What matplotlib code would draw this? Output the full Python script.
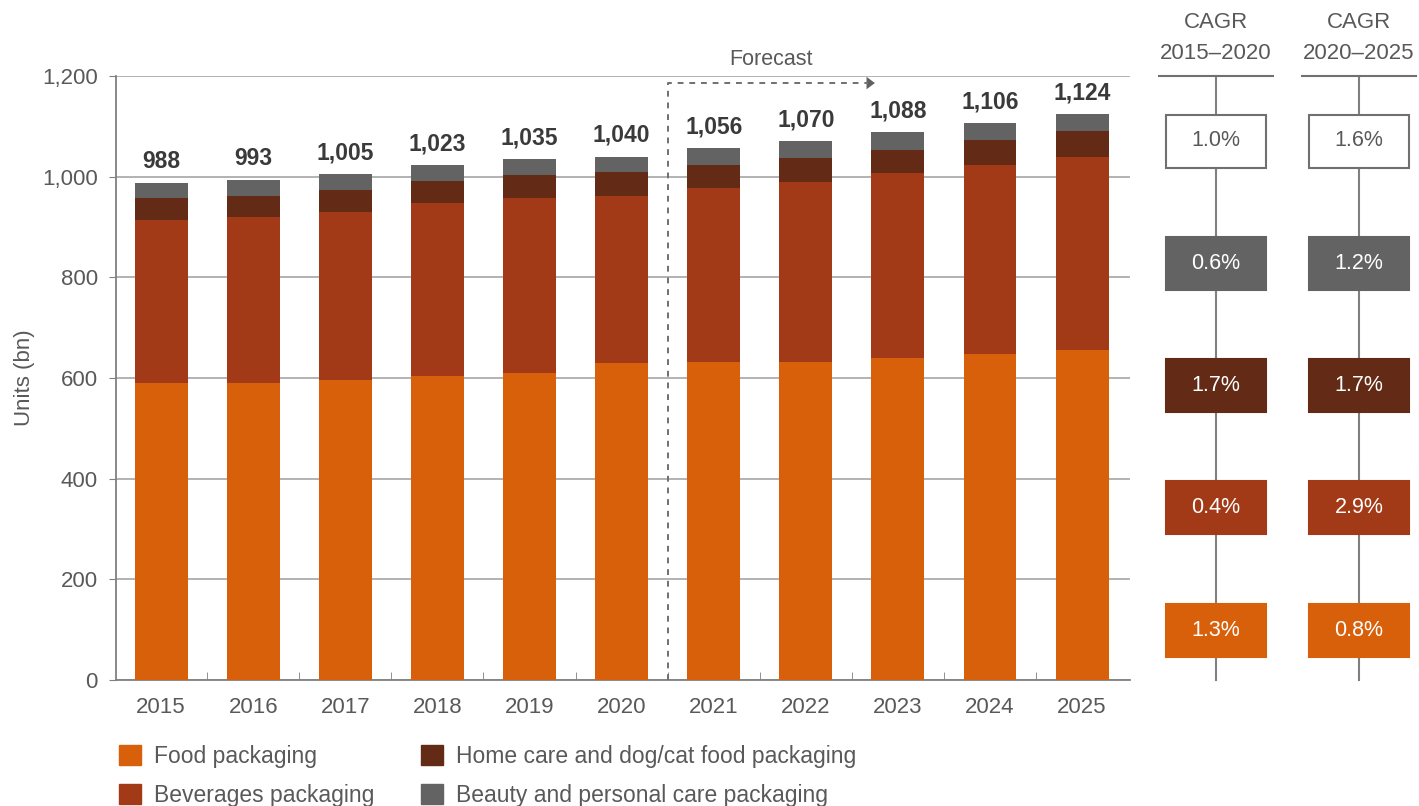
import numpy as np
import matplotlib.pyplot as plt
from matplotlib.patches import Patch, Rectangle

plt.rcParams['font.family'] = ['Liberation Sans', 'DejaVu Sans']

# Data (units, bn)
years = ["2015", "2016", "2017", "2018", "2019", "2020",
         "2021", "2022", "2023", "2024", "2025"]
food = [590, 590, 596, 604, 610, 630, 632, 632, 640, 648, 656]
beverages = [324, 330, 334, 344, 348, 332, 346, 358, 368, 375, 383]
home_care = [44, 42, 44, 43, 45, 47, 45, 47, 45, 50, 52]
beauty = [30, 31, 31, 32, 32, 31, 33, 33, 35, 33, 33]
totals = [988, 993, 1005, 1023, 1035, 1040, 1056, 1070, 1088, 1106, 1124]

series_names = ["Food packaging", "Beverages packaging",
                "Home care and dog/cat food packaging",
                "Beauty and personal care packaging"]
colors = ["#D9600B", "#A33A17", "#632B16", "#636363"]

# CAGR boxes, top to bottom: total, beauty, home care, beverages, food
cagr_headers = ["CAGR\n2015\u20132020", "CAGR\n2020\u20132025"]
cagr_1520 = ["1.0%", "0.6%", "1.7%", "0.4%", "1.3%"]
cagr_2025 = ["1.6%", "1.2%", "1.7%", "2.9%", "0.8%"]
cagr_colors = ["white", colors[3], colors[2], colors[1], colors[0]]

W, H = 1419, 806
fig = plt.figure(figsize=(W / 100, H / 100), dpi=100)
ax = fig.add_axes([116 / W, 1 - 680 / H, (1130 - 116) / W, (680 - 76) / H])

x = np.arange(len(years))
bw = 0.575
bottom = np.zeros(len(years))
for vals, col in zip([food, beverages, home_care, beauty], colors):
    ax.bar(x, vals, bw, bottom=bottom, color=col, zorder=3)
    bottom += np.array(vals)

for xi, t in zip(x, totals):
    ax.annotate(f"{t:,}", (xi, bottom[xi]), xytext=(0, 7), textcoords="offset points",
                ha="center", va="bottom", fontsize=16.5, fontweight="bold", color="#3a3a3a")

ax.set_xlim(-0.49, 10.52)
ax.set_ylim(0, 1200)
ax.set_xticks(x)
ax.set_xticklabels(years)
ax.set_xticks(x[:-1] + 0.5, minor=True)
ax.set_yticks(np.arange(0, 1201, 200))
ax.yaxis.set_major_formatter(plt.FuncFormatter(lambda v, p: f"{int(v):,}"))
ax.tick_params(axis="x", which="major", length=0, pad=12, labelsize=16, labelcolor="#595959")
ax.tick_params(axis="x", which="minor", direction="in", length=6, color="#808080")
ax.tick_params(axis="y", length=5, color="#808080", labelsize=16, labelcolor="#595959", pad=8)
ax.grid(axis="y", color="#a6a6a6", lw=1.2, zorder=0)
for s in ["top", "right"]:
    ax.spines[s].set_visible(False)
for s in ["left", "bottom"]:
    ax.spines[s].set_color("#808080")
    ax.spines[s].set_linewidth(1.3)
ax.set_ylabel("Units (bn)", fontsize=16, color="#595959", labelpad=5)

# Forecast marker
ax.plot([5.5, 5.5, 7.68], [0, 1186, 1186], ls=(0, (3, 3)), color="#707070",
        lw=1.4, clip_on=False, zorder=4)
ax.annotate("", xy=(7.78, 1186), xytext=(7.6, 1186),
            arrowprops=dict(arrowstyle="-|>,head_length=0.6,head_width=0.45",
                            color="#606060", lw=0), annotation_clip=False)
ax.text(6.62, 1232, "Forecast", ha="center", va="center", fontsize=15.5,
        color="#595959", clip_on=False)

# Legend
handles = [Patch(color=c, label=n) for c, n in zip(colors, series_names)]
fig.legend(handles=handles, loc="upper left", bbox_to_anchor=(98 / W, 1 - 724 / H),
           ncol=2, frameon=False, fontsize=16.5, labelcolor="#595959",
           handlelength=0.96, handleheight=0.96, handletextpad=0.6,
           columnspacing=2.0, labelspacing=0.7)

# CAGR panel in pixel coordinates
ov = fig.add_axes([0, 0, 1, 1])
ov.set_xlim(0, W)
ov.set_ylim(H, 0)
ov.axis("off")
col_x = [1216, 1359]
box_w, box_h = 100, 53
box_y = np.linspace(141, 630, 5)
for cx, head, labels in zip(col_x, cagr_headers, [cagr_1520, cagr_2025]):
    ov.text(cx, 38, head, ha="center", va="center", fontsize=16, color="#595959",
            linespacing=1.6)
    ov.plot([cx - 57, cx + 57], [76, 76], color="#707070", lw=1.5)
    ov.plot([cx, cx], [76, 680], color="#808080", lw=1.5, zorder=1)
    for by, lab, bc in zip(box_y, labels, cagr_colors):
        ov.add_patch(Rectangle((cx - box_w / 2, by - box_h / 2), box_w, box_h,
                               facecolor=bc, edgecolor="#707070" if bc == "white" else bc,
                               lw=1.5, zorder=2))
        ov.text(cx, by, lab, ha="center", va="center", fontsize=15.5,
                color="#595959" if bc == "white" else "white", zorder=3)

fig.savefig("out.png", dpi=100)
